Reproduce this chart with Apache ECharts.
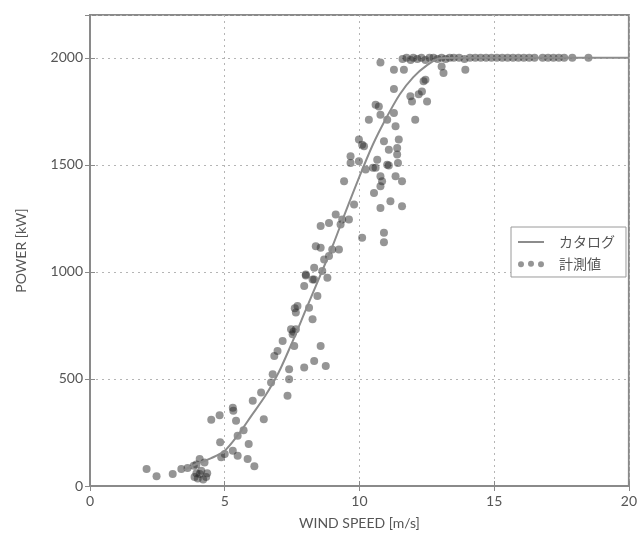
<!DOCTYPE html>
<html><head><meta charset="utf-8">
<script src="https://cdn.jsdelivr.net/npm/echarts@6/dist/echarts.min.js"></script>
<style>html,body{margin:0;padding:0;background:#fff}#c{width:640px;height:535px}</style>
</head><body><div id="c"></div>
<script>
var catalogSpeed = [3.5, 4, 4.5, 5, 5.5, 6, 6.5, 7, 7.5, 8, 8.5, 9, 9.5, 10, 10.5, 11, 11.5, 12, 12.5, 13, 14, 16, 18, 20];
var catalogPower = [75, 105, 130, 165, 240, 330, 420, 530, 670, 820, 970, 1120, 1285, 1445, 1595, 1720, 1830, 1910, 1965, 1998, 2000, 2000, 2000, 2000];

var measuredSpeed = [2.10,2.47,3.07,3.39,3.62,3.88,3.95,4.07,4.13,4.31,4.20,4.00,4.35,3.85,3.95,4.07,4.25,4.50,4.81,4.83,4.87,5.00,5.32,5.30,5.42,5.48,5.30,5.48,5.85,5.89,6.10,6.04,6.45,6.35,5.70,
6.72,6.78,7.33,7.39,7.39,6.84,6.96,7.15,7.58,7.46,7.64,7.52,7.55,7.70,7.64,7.60,8.13,8.26,7.95,8.32,8.56,8.75,7.95,8.01,8.32,8.44,8.62,8.26,8.32,8.01,8.81,8.69,8.87,8.38,8.56,8.99,9.24,8.56,8.87,9.12,9.30,9.61,9.36,9.80,10.10,9.43,9.67,9.67,9.98,10.23,10.54,10.60,
9.98,10.10,10.17,10.35,10.60,10.72,10.78,10.78,10.91,11.09,11.46,11.40,11.40,10.66,10.50,11.03,11.09,11.43,10.78,11.34,10.84,11.58,10.78,11.15,11.58,10.78,10.91,10.91,11.03,11.28,11.34,11.28,11.28,11.65,11.89,11.95,12.32,12.38,12.51,12.07,12.20,13.12,13.93,13.05,12.45,
11.60,11.75,11.90,12.00,12.15,12.30,12.45,12.60,12.75,12.90,13.05,13.20,13.35,13.50,13.70,13.90,14.10,14.30,14.50,14.70,14.90,15.10,15.30,15.50,15.70,15.90,16.10,16.30,16.50,16.80,17.00,17.20,17.40,17.60,17.90,18.50];
var measuredPower = [79,45,56,79,84,42,60,56,71,42,30,35,60,95,100,126,110,309,331,204,134,150,351,365,305,235,165,141,126,196,92,398,312,437,260,
483,522,421,545,499,607,631,677,654,732,732,709,720,841,810,830,833,779,553,584,654,561,934,988,965,887,1004,965,1020,983,973,1058,1074,1120,1113,1105,1105,1214,1229,1268,1221,1245,1245,1315,1159,1423,1540,1509,1517,1478,1369,1486,
1618,1594,1587,1711,1781,1773,1734,1978,1610,1571,1618,1579,1548,1524,1486,1501,1497,1509,1447,1447,1423,1423,1400,1330,1307,1299,1183,1139,1711,1742,1680,1854,1944,1944,1820,1796,1843,1890,1796,1711,1830,1929,1944,1960,1898,
1995,2000,1990,2000,1995,2000,1990,2000,2000,1995,2000,1995,2000,2000,2000,1995,2000,2000,2000,2000,2000,2000,2000,2000,2000,2000,2000,2000,2000,2000,2000,2000,2000,2000,2000,2000];

var xTicks = [0, 5, 10, 15, 20];
var yTicks = [0, 500, 1000, 1500, 2000];

var catalogData = catalogSpeed.map(function (v, i) { return [v, catalogPower[i]]; });
var measuredData = measuredSpeed.map(function (v, i) { return [v, measuredPower[i]]; });

var font = 'Lato, "Noto Sans CJK JP", sans-serif';
var chart = echarts.init(document.getElementById('c'));
var axisLineStyle = { color: '#8a8a8a', width: 2 };
chart.setOption({
  animation: false,
  grid: { left: 90, right: 8, top: 15, bottom: 48, show: true, borderColor: '#8a8a8a', borderWidth: 2 },
  xAxis: [{
    type: 'value', min: 0, max: 20, interval: 5,
    name: 'WIND SPEED [m/s]', nameLocation: 'middle', nameGap: 30,
    nameTextStyle: { color: '#555', fontSize: 14, fontFamily: font },
    axisLine: { lineStyle: axisLineStyle },
    axisTick: { inside: true, length: 5, lineStyle: { color: '#8a8a8a' } },
    axisLabel: { color: '#555', fontSize: 14, fontFamily: font, margin: 8,
      formatter: function (v) { return xTicks.indexOf(v) >= 0 ? String(v) : ''; } },
    splitLine: { show: true, lineStyle: { type: [2, 4], color: '#b5b5b5', width: 1 } }
  }, {
    type: 'value', position: 'top', min: 0, max: 20, interval: 5,
    axisLine: { show: false },
    axisTick: { inside: true, length: 5, lineStyle: { color: '#8a8a8a' } },
    axisLabel: { show: false }, splitLine: { show: false }
  }],
  yAxis: [{
    type: 'value', min: 0, max: 2200, interval: 500,
    name: 'POWER [kW]', nameLocation: 'middle', nameGap: 62,
    nameTextStyle: { color: '#555', fontSize: 14, fontFamily: font },
    axisLine: { lineStyle: axisLineStyle },
    axisTick: { inside: true, length: 5, lineStyle: { color: '#8a8a8a' } },
    axisLabel: { color: '#555', fontSize: 14, fontFamily: font, margin: 7, showMaxLabel: false,
      formatter: function (v) { return yTicks.indexOf(v) >= 0 ? String(v) : ''; } },
    splitLine: { show: true, lineStyle: { type: [2, 4], color: '#b5b5b5', width: 1 } }
  }, {
    type: 'value', position: 'right', min: 0, max: 2200, interval: 500,
    axisLine: { show: false },
    axisTick: { inside: true, length: 5, lineStyle: { color: '#8a8a8a' } },
    axisLabel: { show: false }, splitLine: { show: false }
  }],
  legend: {
    orient: 'vertical', left: 511, top: 227,
    backgroundColor: '#fff', borderColor: '#9a9a9a', borderWidth: 1, borderRadius: 0,
    padding: [8, 11, 6, 7], itemGap: 8, itemWidth: 26, itemHeight: 7,
    textStyle: { color: '#555', fontSize: 14, fontFamily: font, padding: [0, 0, 0, 10] },
    data: [
      { name: 'カタログ', icon: 'path://M0,2.5H26V4.5H0z' },
      { name: '計測値', icon: 'path://M0,3.5a3,3 0 1,0 6,0a3,3 0 1,0 -6,0zM10,3a3,3 0 1,0 6,0a3,3 0 1,0 -6,0zM20,3.5a3,3 0 1,0 6,0a3,3 0 1,0 -6,0z' }
    ]
  },
  series: [{
    name: 'カタログ', type: 'line', data: catalogData, smooth: 0.3, showSymbol: false, z: 3,
    lineStyle: { color: '#8c8c8c', width: 2 }, itemStyle: { color: '#8c8c8c' }
  }, {
    name: '計測値', type: 'scatter', data: measuredData, symbolSize: 8, z: 2,
    itemStyle: { color: 'rgba(40,40,40,0.62)' }
  }]
});
</script></body></html>
